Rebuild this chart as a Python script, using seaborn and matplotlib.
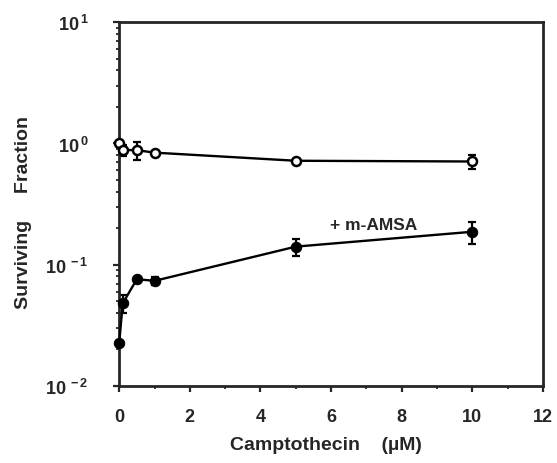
import numpy as np
import matplotlib
matplotlib.use("Agg")
import matplotlib.pyplot as plt
import seaborn as sns
from matplotlib.ticker import MultipleLocator, LogLocator, NullFormatter

# Data
conc = [0, 0.1, 0.5, 1, 5, 10]
camp_alone = [1.0, 0.885, 0.88, 0.84, 0.72, 0.71]
camp_alone_err = [0.0, 0.09, 0.15, 0.0, 0.0, 0.10]
camp_amsa = [0.0226, 0.048, 0.076, 0.0736, 0.141, 0.187]
camp_amsa_err = [0.0, 0.008, 0.0, 0.005, 0.022, 0.04]

sns.set_style("ticks")
plt.rcParams['font.family'] = ['Liberation Sans', 'DejaVu Sans']
plt.rcParams['font.weight'] = 'bold'
plt.rcParams['mathtext.fontset'] = 'custom'
plt.rcParams['mathtext.rm'] = 'Liberation Sans:bold'
plt.rcParams['mathtext.default'] = 'rm'

fig = plt.figure(figsize=(5.57, 4.64), dpi=100)
ax = fig.add_axes([0.214, 0.166, 0.761, 0.784])

# error bars
for y, e in [(camp_alone, camp_alone_err), (camp_amsa, camp_amsa_err)]:
    eb = ax.errorbar(conc, y, yerr=e, fmt='none', ecolor='black',
                     elinewidth=1.6, capsize=3, capthick=1.6, zorder=2)
    for art in eb.lines[1] + eb.lines[2]:
        art.set_clip_on(False)

sns.lineplot(x=conc, y=camp_alone, ax=ax, color='black', linewidth=1.7,
             marker='o', markersize=6.5, markerfacecolor='white',
             markeredgecolor='black', markeredgewidth=1.8, zorder=3, clip_on=False)
sns.lineplot(x=conc, y=camp_amsa, ax=ax, color='black', linewidth=1.7,
             marker='o', markersize=7.5, markerfacecolor='black',
             markeredgecolor='black', zorder=3, clip_on=False)

ax.set_yscale('log')
ax.set_ylim(1e-2, 1e1)
ax.set_xlim(0, 12)
ax.xaxis.set_major_locator(MultipleLocator(2))
ax.xaxis.set_minor_locator(MultipleLocator(1))
ax.yaxis.set_minor_locator(LogLocator(base=10, subs=np.arange(2, 10)))
ax.yaxis.set_minor_formatter(NullFormatter())

ax.set_yticks([1e-2, 1e-1, 1e0, 1e1])
ax.set_yticklabels([r'$10^{\,-2}$', r'$10^{\,-1}$', r'$10^{\,0}$', r'$10^{\,1}$'])

ax.tick_params(axis='x', which='major', direction='out', length=4, width=1.6,
               labelsize=13, pad=12)
ax.tick_params(axis='y', which='major', direction='out', length=4, width=1.6,
               labelsize=13, pad=18)
ax.tick_params(axis='both', which='minor', direction='out', length=2.5, width=1.3)
for lab in ax.get_xticklabels() + ax.get_yticklabels():
    lab.set_fontweight('bold')

for s in ax.spines.values():
    s.set_linewidth(2)
    s.set_visible(True)

ax.text(5.97, 0.216, '+ m-AMSA', fontsize=12.5, fontweight='bold', va='center')

ax.set_xlabel('Camptothecin    (\u00b5M)', fontsize=14, fontweight='bold')
ax.set_ylabel('Surviving     Fraction', fontsize=14, fontweight='bold')
ax.xaxis.set_label_coords(0.488, -0.162)
ax.yaxis.set_label_coords(-0.225, 0.48)
ax.yaxis.label.set_va('center')
ax.xaxis.label.set_va('center')

fig.savefig('out.png', dpi=100)
